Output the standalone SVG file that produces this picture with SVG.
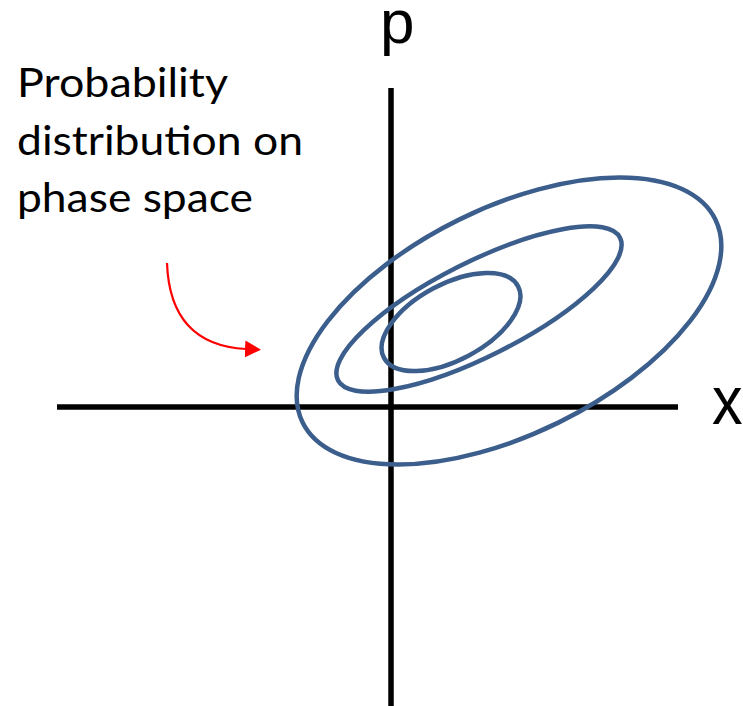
<svg xmlns="http://www.w3.org/2000/svg" width="743" height="706" viewBox="0 0 743 706">
<style>
.axis{stroke:#000;stroke-width:5.5;fill:none}
.contour{fill:none;stroke:#3B5E8C;stroke-width:4.5}
.lbl{font-family:Lato,"Open Sans","Liberation Sans",sans-serif;font-size:40px;fill:#000}
.ax{font-family:"Liberation Sans",Arial,sans-serif;fill:#000}
</style>
<defs>
<marker id="redhead" markerUnits="userSpaceOnUse" markerWidth="16" markerHeight="18" refX="1" refY="8.5" orient="auto">
<path d="M0,0 L16,8.5 L0,17 Z" fill="#FF0000"/>
</marker>
</defs>
<rect width="743" height="706" fill="#fff"/>
<g id="axes">
<line id="x-axis" class="axis" x1="57" y1="407" x2="678" y2="407"/>
<line id="p-axis" class="axis" x1="391" y1="88" x2="391" y2="706"/>
</g>
<g id="contours">
<ellipse id="outer" class="contour" cx="509" cy="321" rx="230" ry="113" transform="rotate(-26.2 509 321)"/>
<ellipse id="middle" class="contour" cx="479" cy="309" rx="158" ry="47" transform="rotate(-26.8 479 309)"/>
<ellipse id="inner" class="contour" cx="451" cy="322" rx="76" ry="38" transform="rotate(-28.2 451 322)"/>
</g>
<g id="labels">
<text class="ax" x="380" y="43" font-size="62">p</text>
<text class="ax" transform="translate(712,424) scale(0.9,1)" font-size="68">x</text>
</g>
<g id="annotation">
<text class="lbl" x="17" y="97" textLength="211" lengthAdjust="spacingAndGlyphs">Probability</text>
<text class="lbl" x="17" y="155" textLength="286" lengthAdjust="spacingAndGlyphs">distribution on</text>
<text class="lbl" x="17" y="212" textLength="236" lengthAdjust="spacingAndGlyphs">phase space</text>
</g>
<g id="connectors">
<path d="M167,263 Q170,345 246,349" fill="none" stroke="#FF0000" stroke-width="2.2" marker-end="url(#redhead)"/>
</g>
</svg>
